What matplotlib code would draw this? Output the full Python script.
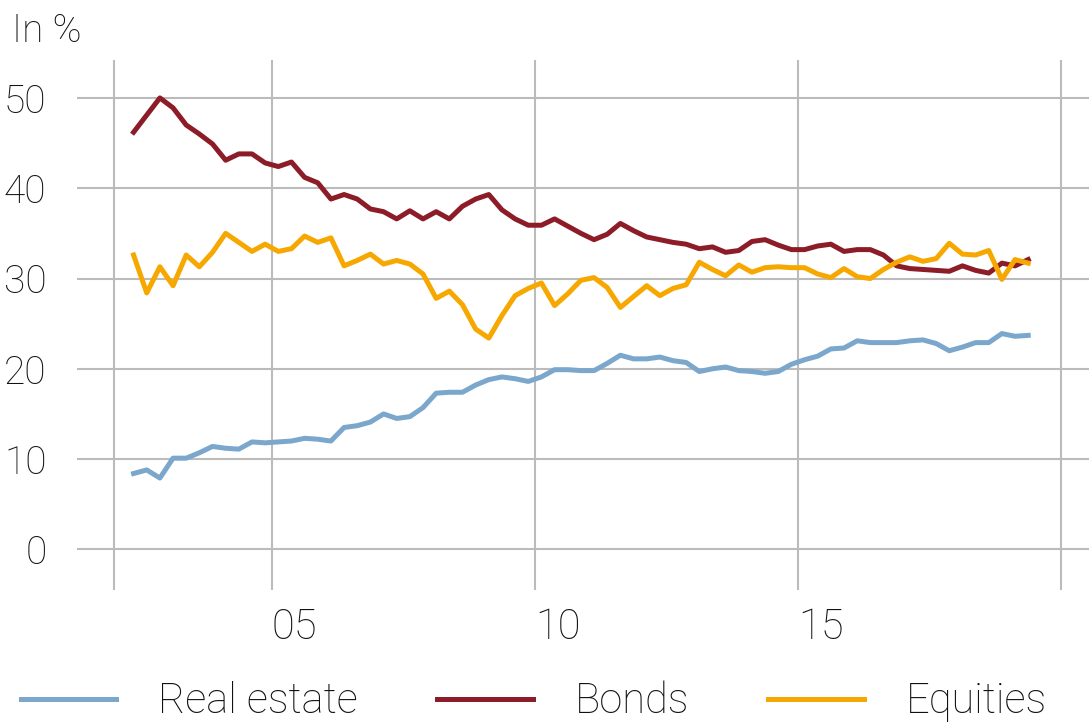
import numpy as np
import matplotlib.pyplot as plt

# quarterly shares, 2002 Q2 .. 2019 Q2
start_year = 2002.375
real_estate = [8.4, 8.8, 7.9, 10.1, 10.1, 10.7, 11.4, 11.2, 11.1, 11.9, 11.8, 11.9, 12.0, 12.3, 12.2,
               12.0, 13.5, 13.7, 14.1, 15.0, 14.5, 14.7, 15.7, 17.3, 17.4, 17.4, 18.2, 18.8,
               19.1, 18.9, 18.6, 19.1, 19.9, 19.9, 19.8, 19.8, 20.6, 21.5, 21.1, 21.1, 21.3, 20.9,
               20.7, 19.7, 20.0, 20.2, 19.8, 19.7, 19.5, 19.7, 20.5, 21.0, 21.4, 22.2, 22.3, 23.1,
               22.9, 22.9, 22.9, 23.1, 23.2, 22.8, 22.0, 22.4, 22.9, 22.9, 23.9, 23.6, 23.7]
bonds = [46.2, 48.1, 50.0, 48.9, 47.0, 46.0, 44.9, 43.1, 43.8, 43.8, 42.8, 42.4, 42.9, 41.2, 40.6,
         38.8, 39.3, 38.8, 37.7, 37.4, 36.6, 37.5, 36.6, 37.4, 36.6, 38.0, 38.8, 39.3,
         37.6, 36.6, 35.9, 35.9, 36.6, 35.8, 35.0, 34.3, 34.9, 36.1, 35.3, 34.6, 34.3, 34.0,
         33.8, 33.3, 33.5, 32.9, 33.1, 34.1, 34.3, 33.7, 33.2, 33.2, 33.6, 33.8, 33.0, 33.2,
         33.2, 32.6, 31.4, 31.1, 31.0, 30.9, 30.8, 31.4, 30.9, 30.6, 31.7, 31.4, 32.1]
equities = [32.6, 28.4, 31.3, 29.2, 32.6, 31.3, 32.9, 35.0, 34.0, 33.0, 33.8, 33.0, 33.3, 34.7, 34.0,
            34.5, 31.4, 32.0, 32.7, 31.6, 32.0, 31.6, 30.5, 27.8, 28.6, 27.1, 24.4, 23.4,
            25.9, 28.1, 28.9, 29.5, 27.0, 28.3, 29.8, 30.1, 29.0, 26.8, 28.0, 29.2, 28.1, 28.9,
            29.3, 31.8, 31.0, 30.3, 31.5, 30.7, 31.2, 31.3, 31.2, 31.2, 30.5, 30.1, 31.1, 30.2,
            30.0, 31.0, 31.8, 32.4, 31.9, 32.2, 33.9, 32.7, 32.6, 33.1, 29.9, 32.1, 31.7]
x_ticks = [2002, 2005, 2010, 2015, 2020]
x_labels = ['', '05', '10', '15', '']
y_ticks = [0, 10, 20, 30, 40, 50]

years = start_year + 0.25 * np.arange(len(bonds))

plt.rcParams['font.family'] = ['Roboto', 'DejaVu Sans']
plt.rcParams['font.weight'] = 'light'
plt.rcParams['text.color'] = '#111111'

fig = plt.figure(figsize=(10.89, 7.27), dpi=100)
ax = fig.add_axes([77/1089, 137/727, 1012/1089, 530/727])

ax.plot(years, real_estate, color='#7ba7cc', lw=3.6, label='Real estate')
ax.plot(years, bonds, color='#8c1d28', lw=3.6, label='Bonds')
ax.plot(years, equities, color='#f7a800', lw=3.6, label='Equities')

ax.set_xlim(2001.3, 2020.53)
ax.set_ylim(-4.5, 54.2)
ax.set_xticks(x_ticks)
ax.set_xticklabels(x_labels)
ax.set_yticks(y_ticks)
for lab in ax.get_xticklabels():
    lab.set_horizontalalignment('left')
ax.tick_params(axis='x', length=0, pad=12, labelsize=30, colors='#111111')
ax.tick_params(axis='y', length=0, pad=22, labelsize=28, colors='#111111')
ax.grid(True, color='#bbbbbb', lw=1.5)
ax.set_axisbelow(True)
for s in ax.spines.values():
    s.set_visible(False)

fig.text(12/1089, 1 - 42/727, 'In %', fontsize=28)

fig.legend(loc='lower center', bbox_to_anchor=(0.49, -0.045), ncol=3, frameon=False,
           fontsize=30, handlelength=2.3, handletextpad=1.0, columnspacing=1.9)

fig.savefig('out.png', dpi=100)
